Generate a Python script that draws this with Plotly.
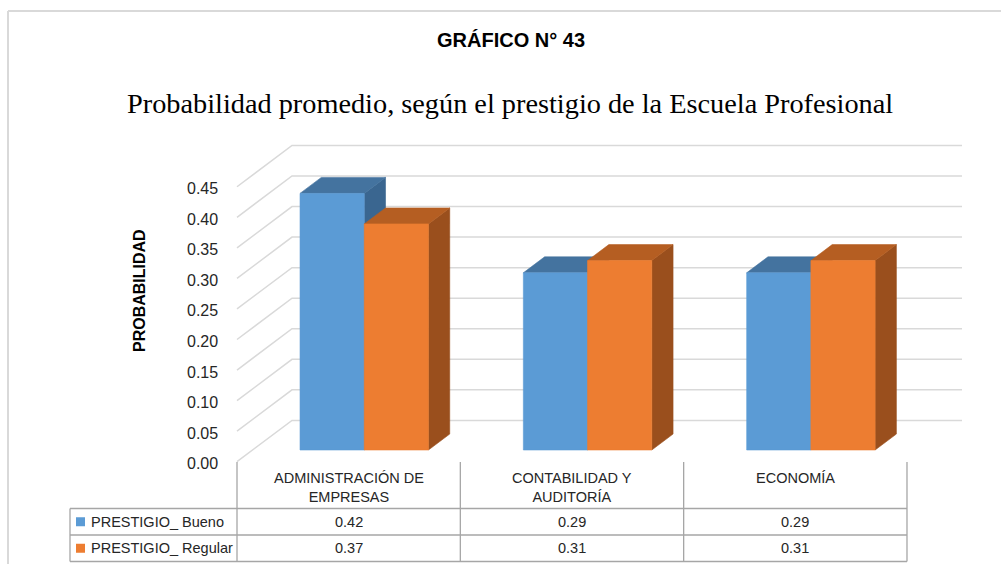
import plotly.graph_objects as go

# ---- data ---------------------------------------------------------------
categories = ["ADMINISTRACIÓN DE<br>EMPRESAS", "CONTABILIDAD Y<br>AUDITORÍA", "ECONOMÍA"]
series_names = ["PRESTIGIO_ Bueno", "PRESTIGIO_ Regular"]
bueno = [0.42, 0.29, 0.29]
regular = [0.37, 0.31, 0.31]
tick_values = [0.00, 0.05, 0.10, 0.15, 0.20, 0.25, 0.30, 0.35, 0.40, 0.45]
tick_labels = ["0.00", "0.05", "0.10", "0.15", "0.20", "0.25", "0.30", "0.35", "0.40", "0.45"]

# ---- styling --------------------------------------------------------------
W, H = 1001, 564
FONT = "Liberation Sans, Arial, sans-serif"
TEXT = "#262626"
GRID = "#d9d9d9"
TABLE_LINE = "#a6a6a6"
face = {
    0: dict(front="#5b9bd5", top="#44739f", side="#3a6690"),
    1: dict(front="#ed7d31", top="#b55e22", side="#9a4f1d"),
}

# axis scaling: one category per x unit, probability on y
COL_W = 223.33          # pixels per category
X0_PX = 237.0           # pixel of the left edge of the first category
Y0_PX = 461.7           # pixel of 0.00 on the front plane
Y_SCALE = 611.0         # pixels per probability unit

def ux(px):
    return (px - X0_PX) / COL_W - 0.5

def vy(py):
    return (Y0_PX - py) / Y_SCALE

# oblique depth of the 3-D box (front plane -> back wall)
DX = 55.0 / COL_W
DY = 41.3 / Y_SCALE
BAR_W = 0.2875
F0, F1 = 0.283, 0.67    # depth fraction of bar front / back faces

fig = go.Figure()

# ---- walls: back gridlines + side-wall diagonals ---------------------------
gx, gy = [], []
for t in tick_values:
    gx += [-0.5, -0.5 + DX, 2.5 + DX, None]
    gy += [t, t + DY, t + DY, None]
fig.add_trace(go.Scatter(x=gx, y=gy, mode="lines",
                         line=dict(color=GRID, width=1.5),
                         hoverinfo="skip", showlegend=False))

# ---- 3-D bars ---------------------------------------------------------------
def poly(xs, ys, color):
    fig.add_trace(go.Scatter(x=xs + [xs[0]], y=ys + [ys[0]], mode="lines",
                             fill="toself", fillcolor=color,
                             line=dict(color=color, width=0.6),
                             hoverinfo="skip", showlegend=False))

for i in range(len(categories)):
    for s, vals in enumerate([bueno, regular]):
        val = vals[i]
        x0 = i - BAR_W + s * BAR_W
        x1 = x0 + BAR_W
        fx0, fx1 = x0 + F0 * DX, x1 + F0 * DX
        bx0, bx1 = x0 + F1 * DX, x1 + F1 * DX
        fb, bb = F0 * DY, F1 * DY
        c = face[s]
        # side face
        poly([fx1, bx1, bx1, fx1], [fb, bb, val + bb, val + fb], c["side"])
        # top face
        poly([fx0, fx1, bx1, bx0], [val + fb, val + fb, val + bb, val + bb], c["top"])
        # front face
        poly([fx0, fx1, fx1, fx0], [fb, fb, val + fb, val + fb], c["front"])

annotations = []
shapes = []

# ---- value axis labels ----------------------------------------------------
for t, lab in zip(tick_values, tick_labels):
    annotations.append(dict(x=ux(220), y=t, xref="x", yref="y", text=lab,
                            showarrow=False, xanchor="right", yanchor="middle",
                            yshift=-2, font=dict(family=FONT, size=16, color=TEXT)))

annotations.append(dict(x=ux(139), y=vy(291), xref="x", yref="y", text="<b>PROBABILIDAD</b>",
                        showarrow=False, textangle=-90,
                        font=dict(family=FONT, size=16, color="#000000")))

# ---- titles -----------------------------------------------------------------
annotations.append(dict(x=ux(511), y=vy(40), xref="x", yref="y", text="<b>GRÁFICO N° 43</b>",
                        showarrow=False, font=dict(family=FONT, size=20, color="#000000")))
annotations.append(dict(x=ux(510), y=vy(103), xref="x", yref="y",
                        text="Probabilidad promedio, según el prestigio de la Escuela Profesional",
                        showarrow=False,
                        font=dict(family="Liberation Serif, Times New Roman, serif", size=28.3,
                                  color="#000000")))

# ---- data table -------------------------------------------------------------
ROW_TOP, ROW1, ROW2, ROW_BOT = 462.0, 508.5, 535.0, 561.5
TBL_LEFT = 70.0
n = len(categories)
line = dict(color=TABLE_LINE, width=1.3)
for k in range(n + 1):
    xk = k - 0.5
    shapes.append(dict(type="line", xref="x", yref="y", x0=xk, x1=xk,
                       y0=vy(ROW_TOP), y1=vy(ROW_BOT), line=line))
for yy in (ROW1, ROW2, ROW_BOT):
    shapes.append(dict(type="line", xref="x", yref="y", x0=ux(TBL_LEFT), x1=n - 0.5,
                       y0=vy(yy), y1=vy(yy), line=line))
shapes.append(dict(type="line", xref="x", yref="y", x0=ux(TBL_LEFT), x1=ux(TBL_LEFT),
                   y0=vy(ROW1), y1=vy(ROW_BOT), line=line))

for i, cat in enumerate(categories):
    annotations.append(dict(x=i, y=vy(468), xref="x", yref="y", text=cat,
                            showarrow=False, xanchor="center", yanchor="top", align="center",
                            font=dict(family=FONT, size=14.5, color=TEXT)))

row_centers = [(ROW1 + ROW2) / 2, (ROW2 + ROW_BOT) / 2]
for s, (name, vals) in enumerate(zip(series_names, [bueno, regular])):
    yc = row_centers[s]
    for i, val in enumerate(vals):
        annotations.append(dict(x=i, y=vy(yc), xref="x", yref="y", text=f"{val:.2f}",
                                showarrow=False, font=dict(family=FONT, size=14.5, color=TEXT)))
    annotations.append(dict(x=ux(89), y=vy(yc), xref="x", yref="y", text=name,
                            showarrow=False, xanchor="left",
                            font=dict(family=FONT, size=14.5, color=TEXT)))
    shapes.append(dict(type="rect", xref="x", yref="y",
                       x0=ux(76), x1=ux(85), y0=vy(yc - 4.5), y1=vy(yc + 4.5),
                       fillcolor=face[s]["front"], line=dict(width=0)))

# ---- chart border -----------------------------------------------------------
shapes.append(dict(type="line", xref="x", yref="y", x0=ux(8), x1=ux(W), y0=vy(11), y1=vy(11),
                   line=dict(color=GRID, width=2)))
shapes.append(dict(type="line", xref="x", yref="y", x0=ux(8), x1=ux(8), y0=vy(11), y1=vy(H),
                   line=dict(color=GRID, width=2)))

fig.update_layout(
    width=W, height=H,
    margin=dict(l=0, r=0, t=0, b=0),
    paper_bgcolor="white", plot_bgcolor="white",
    showlegend=False,
    xaxis=dict(range=[ux(0), ux(W)], visible=False, fixedrange=True),
    yaxis=dict(range=[vy(H), vy(0)], visible=False, fixedrange=True),
    annotations=annotations,
    shapes=shapes,
)

fig.write_html("out.html")
